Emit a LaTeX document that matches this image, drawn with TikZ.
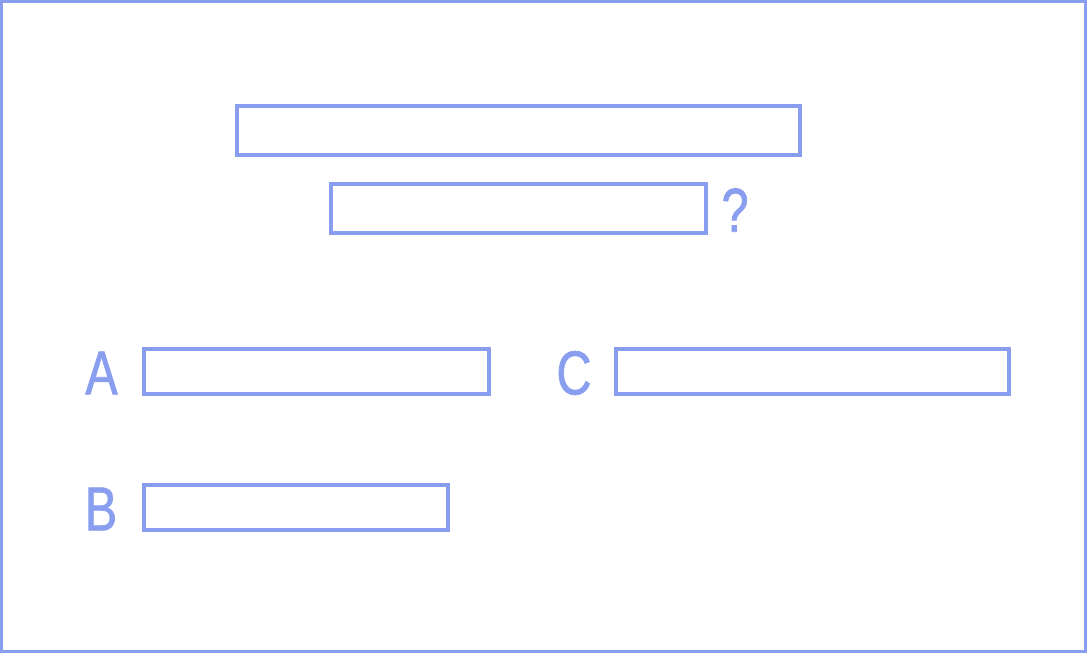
\documentclass[tikz,border=0pt]{standalone}
\usepackage{fontspec}
\setmainfont{Liberation Sans}[FakeStretch=0.78,FakeBold=1.2]
\definecolor{lineblue}{HTML}{8A9EF0}
\begin{document}
\begin{tikzpicture}[x=1pt,y=-1pt,
  field/.style={draw=lineblue,line width=3.3pt},
  lbl/.style={text=lineblue,font=\fontsize{62}{62}\selectfont,inner sep=0pt,anchor=center}]
\useasboundingbox (0,0) rectangle (1087,653);
\draw[field] (1.6,1.6) rectangle (1085.4,651.4);
\draw[field] (237,106) rectangle (800,155);
\draw[field] (331,184) rectangle (706,233);
\node[lbl] (q) at (735,210) {?};
\node[lbl] (a) at (101.5,373) {A};
\draw[field] (144,349) rectangle (489,394);
\node[lbl] (c) at (574,373) {C};
\draw[field] (616,349) rectangle (1009,394);
\node[lbl] (b) at (101,509) {B};
\draw[field] (144,485) rectangle (448,530);
\end{tikzpicture}
\end{document}
